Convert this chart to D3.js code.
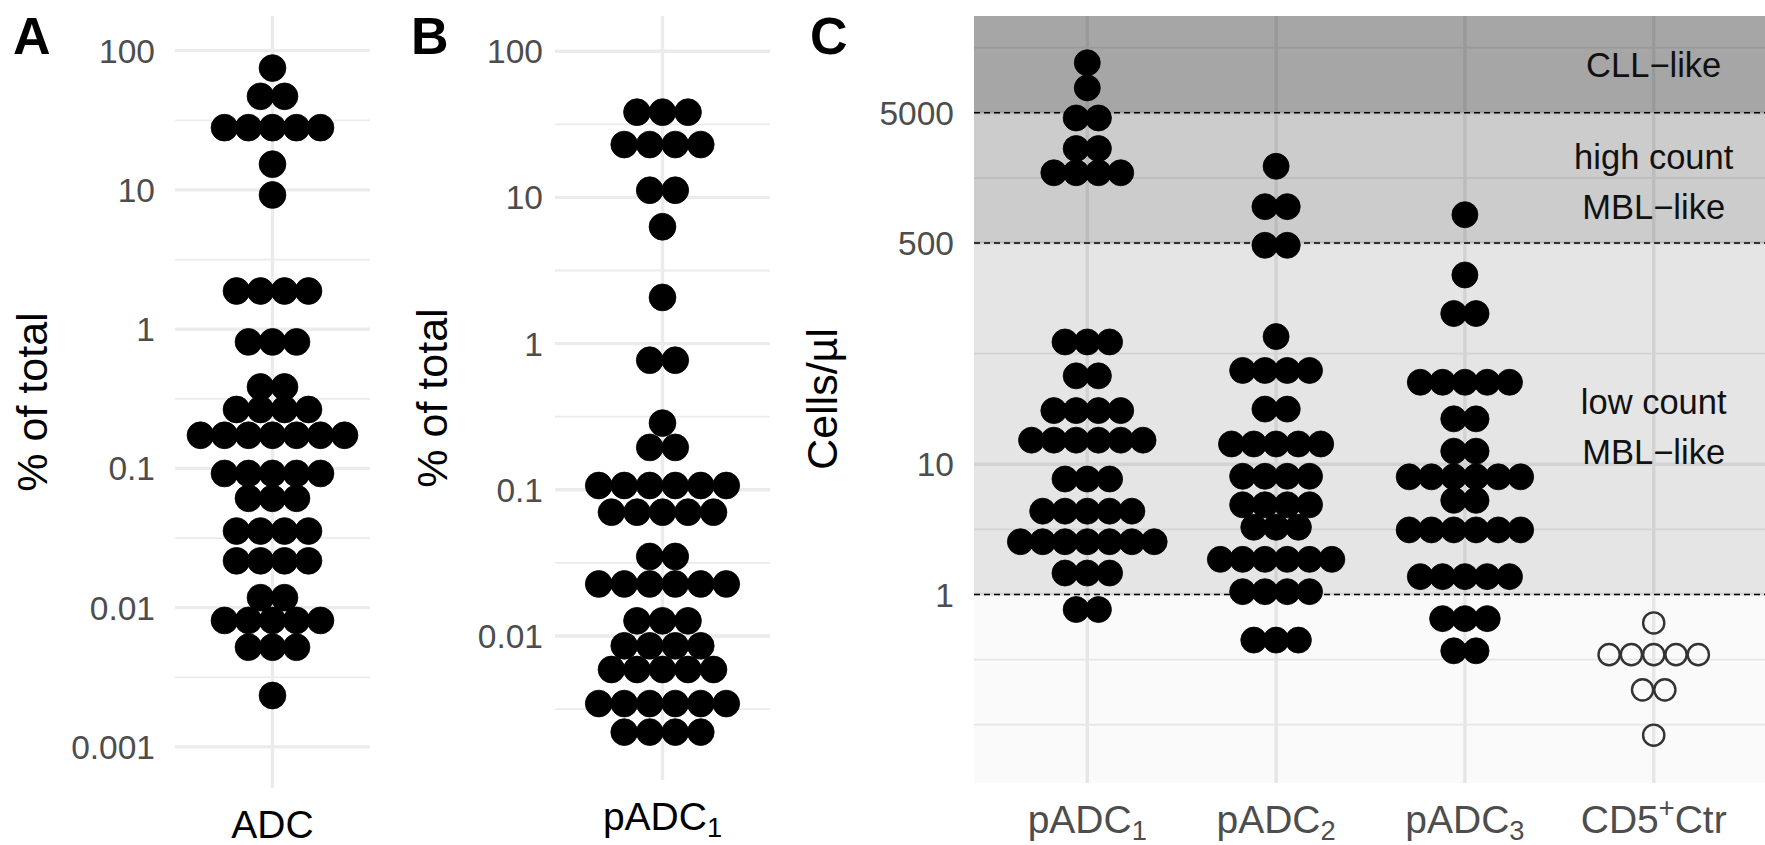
<!DOCTYPE html>
<html>
<head>
<meta charset="utf-8">
<script src="https://cdn.jsdelivr.net/npm/d3@7"></script>
<style>
  body { margin: 0; background: #fff; }
</style>
</head>
<body>
<div id="chart"></div>
<script>
// ---- values (one entry per dot row: value, number of dots) ----
// Panel A: ADC, % of total
const adcValues = [75, 47, 28, 15.3, 9.2, 1.88, 0.81, 0.385, 0.265, 0.173, 0.092, 0.061, 0.0355, 0.0217, 0.0118, 0.0081, 0.0052, 0.00234];
const adcCounts = [1, 2, 5, 1, 1, 4, 3, 2, 4, 7, 5, 3, 4, 4, 2, 5, 3, 1];

// Panel B: pADC1, % of total
const padcValues = [38.3, 23, 11.2, 6.3, 2.07, 0.77, 0.286, 0.195, 0.107, 0.0703, 0.035, 0.0227, 0.0127, 0.00857, 0.0059, 0.00345, 0.0022];
const padcCounts = [3, 4, 2, 1, 1, 2, 1, 2, 6, 5, 2, 6, 3, 4, 5, 6, 4];

// Panel C: cells/µl
const cCategories = ["pADC1", "pADC2", "pADC3", "CD5+Ctr"];
const pADC1Values = [12100, 7760, 4560, 2655, 1730, 86.9, 47.7, 25.8, 15.3, 7.7, 4.36, 2.54, 1.46, 0.766];
const pADC1Counts = [1, 1, 2, 2, 4, 3, 2, 4, 6, 3, 5, 7, 3, 2];
const pADC2Values = [1940, 950, 480, 95.5, 52.5, 26.5, 14.3, 8.08, 4.88, 3.28, 1.86, 1.05, 0.446];
const pADC2Counts = [1, 2, 2, 1, 4, 2, 5, 4, 4, 3, 6, 4, 3];
const pADC3Values = [824, 284, 143.6, 42.6, 22.3, 12.6, 8.0, 5.28, 3.13, 1.37, 0.652, 0.369];
const pADC3Counts = [1, 1, 2, 5, 2, 2, 6, 2, 6, 5, 3, 2];
const ctrValues = [0.604, 0.345, 0.185, 0.083];
const ctrCounts = [1, 5, 2, 1];

// axis ticks
const ticksPctA = [100, 10, 1, 0.1, 0.01, 0.001];
const ticksPctB = [100, 10, 1, 0.1, 0.01];
const ticksCells = [5000, 500, 10, 1];

// count zones of panel C (lower bound of each zone, labels, where the label sits)
const zoneBreaks = [0, 1, 500, 5000];
const zoneNames = [[], ["low count", "MBL\u2212like"], ["high count", "MBL\u2212like"], ["CLL\u2212like"]];
const zoneLabelAt = [null, 19.4, 1490, 11670];

// ---- page ----
const W = 1765, H = 845;
const font = '"Liberation Sans", Arial, Helvetica, sans-serif';
const gridCol = "#ebebeb";

const svg = d3.select("#chart").append("svg")
    .attr("width", W)
    .attr("height", H)
    .attr("font-family", font);

// ggplot-like minor breaks (midpoints, extended by one step on both sides)
function gridBreaks(b) {
  const bd = b[1] - b[0];
  const ext = [b[0] - bd, ...b, b[b.length - 1] + bd];
  const out = [];
  for (let i = 0; i < ext.length - 1; i++) out.push(ext[i], (ext[i] + ext[i + 1]) / 2);
  out.push(ext[ext.length - 1]);
  return out;
}

function categoryLabel(sel, name, size) {
  const m = name.match(/^(pADC)(\d)$/);
  if (m) {
    sel.append("tspan").text(m[1]);
    sel.append("tspan").attr("font-size", size * 0.7).attr("dy", 7).text(m[2]);
  } else if (name === "CD5+Ctr") {
    sel.append("tspan").text("CD5");
    sel.append("tspan").attr("font-size", size * 0.7).attr("dy", -16).text("+");
    sel.append("tspan").attr("dy", 16).text("Ctr");
  } else {
    sel.text(name);
  }
}

function drawPanel(p) {
  const y = d3.scaleLog().domain(p.domain).range([p.bottom, p.top]);
  const x = d3.scalePoint().domain(p.categories).range([p.left, p.right]).padding(0.6);
  const g = svg.append("g");

  const clipId = "clip-" + p.tag;
  svg.append("clipPath").attr("id", clipId)
    .append("rect")
      .attr("x", p.left).attr("y", p.top)
      .attr("width", p.right - p.left).attr("height", p.bottom - p.top);

  const plot = g.append("g").attr("clip-path", `url(#${clipId})`);

  // grid
  const logTicks = p.ticks.map(Math.log10).sort(d3.ascending);
  const lo = Math.log10(p.domain[0]), hi = Math.log10(p.domain[1]);
  const minor = gridBreaks(logTicks).filter(v => v >= lo && v <= hi);

  plot.selectAll(".minor").data(minor).enter().append("line")
    .attr("x1", p.left).attr("x2", p.right)
    .attr("y1", d => y(Math.pow(10, d))).attr("y2", d => y(Math.pow(10, d)))
    .attr("stroke", gridCol).attr("stroke-width", 1.8);

  plot.selectAll(".major").data(p.ticks).enter().append("line")
    .attr("x1", p.left).attr("x2", p.right)
    .attr("y1", d => y(d)).attr("y2", d => y(d))
    .attr("stroke", gridCol).attr("stroke-width", 3.4);

  plot.selectAll(".vgrid").data(p.categories).enter().append("line")
    .attr("x1", d => x(d)).attr("x2", d => x(d))
    .attr("y1", p.top).attr("y2", p.bottom)
    .attr("stroke", gridCol).attr("stroke-width", 3.4);

  // shaded zones (panel C)
  if (p.zones) {
    const top = p.domain[1];
    zoneBreaks.forEach((b, i) => {
      const upper = i < zoneBreaks.length - 1 ? zoneBreaks[i + 1] : top;
      const yTop = y(upper);
      const yBot = b <= 0 ? p.bottom : y(b);
      plot.append("rect")
        .attr("x", p.left).attr("width", p.right - p.left)
        .attr("y", yTop).attr("height", yBot - yTop)
        .attr("fill", "#000").attr("fill-opacity", p.zoneAlpha[i]);
    });
    plot.selectAll(".zline").data(zoneBreaks.filter(b => b > 0)).enter().append("line")
      .attr("x1", p.left).attr("x2", p.right)
      .attr("y1", d => y(d)).attr("y2", d => y(d))
      .attr("stroke", "#000").attr("stroke-width", 1.6)
      .attr("stroke-dasharray", "6,4");
    const lx = x(p.categories[p.categories.length - 1]);
    zoneNames.forEach((lines, i) => {
      if (!lines.length) return;
      const cy = y(zoneLabelAt[i]);
      lines.forEach((t, k) => {
        plot.append("text")
          .attr("x", lx)
          .attr("y", cy + (k - (lines.length - 1) / 2) * 50)
          .attr("dy", "0.36em")
          .attr("text-anchor", "middle")
          .attr("font-size", 34.5)
          .attr("fill", "#111")
          .text(t);
      });
    });
  }

  // dots, stacked centred on each category
  p.groups.forEach(grp => {
    const dots = [];
    grp.values.forEach((v, i) => {
      const n = grp.counts[i];
      for (let k = 0; k < n; k++) dots.push({ v: v, off: k - (n - 1) / 2 });
    });
    plot.selectAll(null).data(dots).enter().append("circle")
      .attr("cx", d => x(grp.name) + d.off * p.spacing)
      .attr("cy", d => y(d.v))
      .attr("r", grp.open ? p.r - 2.4 : p.r)
      .attr("fill", grp.open ? "none" : "#000")
      .attr("stroke", grp.open ? "#333" : "#000")
      .attr("stroke-width", grp.open ? 2.4 : 0.8);
  });

  // y tick labels
  g.selectAll(".ytick").data(p.ticks).enter().append("text")
    .attr("x", p.tickX)
    .attr("y", d => y(d))
    .attr("dy", "0.36em")
    .attr("text-anchor", "end")
    .attr("font-size", 33.5)
    .attr("fill", "#4d4d4d")
    .text(d => String(d));

  // x labels
  p.categories.forEach(c => {
    const t = g.append("text")
      .attr("x", x(c))
      .attr("y", p.bottom + 50)
      .attr("text-anchor", "middle")
      .attr("font-size", 39)
      .attr("fill", p.xCol);
    categoryLabel(t, c, 39);
  });

  // y title
  g.append("text")
    .attr("transform", `translate(${p.titleX},${p.titleY}) rotate(-90)`)
    .attr("text-anchor", "middle")
    .attr("font-size", 43)
    .attr("fill", "#000")
    .text(p.title);

  // panel tag
  g.append("text")
    .attr("x", p.tagX).attr("y", 54)
    .attr("font-size", 52)
    .attr("font-weight", "bold")
    .attr("fill", "#000")
    .text(p.tag);
}

drawPanel({
  tag: "A", tagX: 13,
  left: 175, right: 370, top: 16, bottom: 788,
  domain: [Math.pow(10, -3.295), Math.pow(10, 2.249)],
  ticks: ticksPctA, tickX: 155,
  categories: ["ADC"], xCol: "#000",
  title: "% of total", titleX: 46.5, titleY: 402,
  spacing: 24, r: 13.4,
  groups: [{ name: "ADC", values: adcValues, counts: adcCounts }]
});

drawPanel({
  tag: "B", tagX: 411,
  left: 555, right: 770, top: 16, bottom: 780,
  domain: [Math.pow(10, -2.985), Math.pow(10, 2.241)],
  ticks: ticksPctB, tickX: 543,
  categories: ["pADC1"], xCol: "#000",
  title: "% of total", titleX: 446.5, titleY: 398,
  spacing: 25.5, r: 13.4,
  groups: [{ name: "pADC1", values: padcValues, counts: padcCounts }]
});

drawPanel({
  tag: "C", tagX: 810,
  left: 974, right: 1767, top: 16, bottom: 783,
  domain: [Math.pow(10, -1.448), Math.pow(10, 4.442)],
  ticks: ticksCells, tickX: 954,
  categories: cCategories, xCol: "#4d4d4d",
  title: "Cells/\u00b5l", titleX: 837, titleY: 399,
  spacing: 22.3, r: 13,
  zones: true, zoneAlpha: [0.02, 0.1, 0.2, 0.35],
  groups: [
    { name: "pADC1", values: pADC1Values, counts: pADC1Counts },
    { name: "pADC2", values: pADC2Values, counts: pADC2Counts },
    { name: "pADC3", values: pADC3Values, counts: pADC3Counts },
    { name: "CD5+Ctr", values: ctrValues, counts: ctrCounts, open: true }
  ]
});
</script>
</body>
</html>
